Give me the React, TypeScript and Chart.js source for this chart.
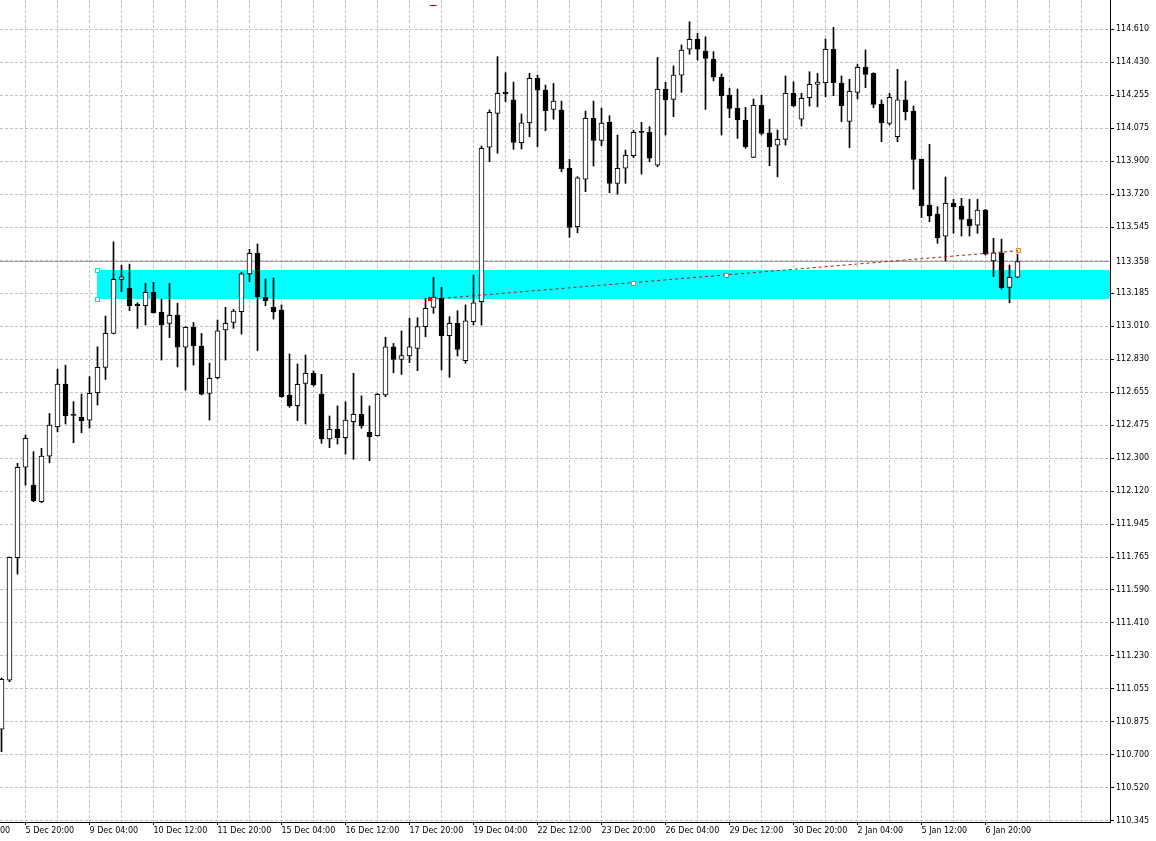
import React, { useEffect, useRef } from "react";
import { Chart, registerables } from "chart.js";

Chart.register(...registerables);

// ---- H4 candles (USDJPY-like) ----
const opens = [
  110.839, 111.104, 111.763, 112.250, 112.154, 112.064, 112.310, 112.468, 112.698, 112.532,
  112.519, 112.503, 112.651, 112.788, 112.971, 113.262, 113.214, 113.129, 113.120, 113.192,
  113.084, 113.025, 113.070, 112.896, 113.004, 112.903, 112.648, 112.732, 112.989, 113.030,
  113.088, 113.291, 113.402, 113.165, 113.111, 113.097, 112.639, 112.581, 112.702, 112.756,
  112.644, 112.402, 112.454, 112.409, 112.495, 112.535, 112.438, 112.420, 112.639, 112.899,
  112.831, 112.849, 112.890, 113.007, 113.111, 113.160, 112.958, 113.025, 112.824, 113.034,
  113.141, 113.973, 114.156, 114.271, 114.228, 113.998, 114.105, 114.344, 114.281, 114.177,
  114.174, 113.861, 113.545, 113.801, 114.129, 114.010, 114.107, 113.779, 113.860, 113.928,
  114.055, 114.054, 113.877, 114.285, 114.231, 114.362, 114.501, 114.554, 114.491, 114.447,
  114.350, 114.254, 114.183, 114.120, 113.919, 114.199, 114.051, 113.984, 114.016, 114.264,
  114.124, 114.240, 114.312, 114.321, 114.501, 114.317, 114.112, 114.269, 114.404, 114.371,
  114.206, 114.102, 114.030, 114.228, 114.168, 113.908, 113.662, 113.614, 113.495, 113.671,
  113.657, 113.585, 113.554, 113.635, 113.361, 113.405, 113.219, 113.273,
];
const highs = [
  111.115, 111.767, 112.271, 112.424, 112.334, 112.352, 112.540, 112.779, 112.800, 112.603,
  112.644, 112.738, 112.899, 113.064, 113.464, 113.339, 113.344, 113.136, 113.240, 113.246,
  113.156, 113.240, 113.133, 113.007, 113.030, 112.971, 112.810, 113.043, 113.111, 113.100,
  113.300, 113.424, 113.452, 113.264, 113.269, 113.124, 112.860, 112.806, 112.854, 112.768,
  112.750, 112.526, 112.580, 112.603, 112.756, 112.634, 112.580, 112.648, 112.950, 112.917,
  112.984, 113.052, 113.055, 113.160, 113.273, 113.219, 113.061, 113.093, 113.124, 113.285,
  113.980, 114.174, 114.461, 114.375, 114.324, 114.152, 114.371, 114.362, 114.308, 114.317,
  114.222, 113.908, 113.815, 114.168, 114.222, 114.184, 114.143, 114.039, 113.958, 114.066,
  114.107, 114.084, 114.457, 114.323, 114.411, 114.524, 114.649, 114.587, 114.568, 114.488,
  114.368, 114.291, 114.287, 114.188, 114.233, 114.254, 114.124, 114.066, 114.357, 114.326,
  114.264, 114.380, 114.371, 114.556, 114.619, 114.357, 114.339, 114.421, 114.497, 114.375,
  114.228, 114.264, 114.393, 114.330, 114.195, 113.910, 113.989, 113.653, 113.813, 113.693,
  113.698, 113.693, 113.693, 113.639, 113.483, 113.478, 113.339, 113.398,
];
const lows = [
  110.718, 111.095, 111.675, 112.154, 112.064, 112.059, 112.274, 112.441, 112.483, 112.382,
  112.436, 112.461, 112.585, 112.723, 112.968, 113.195, 113.093, 112.998, 113.016, 113.079,
  112.827, 112.948, 112.790, 112.666, 112.800, 112.639, 112.504, 112.725, 112.827, 112.998,
  112.967, 113.249, 112.878, 113.120, 113.048, 112.627, 112.573, 112.501, 112.483, 112.687,
  112.379, 112.355, 112.375, 112.321, 112.293, 112.460, 112.285, 112.418, 112.630, 112.759,
  112.750, 112.813, 112.770, 112.953, 113.079, 112.774, 112.734, 112.849, 112.810, 113.016,
  113.016, 113.895, 113.941, 114.218, 113.962, 113.964, 114.030, 113.976, 114.062, 114.124,
  113.841, 113.488, 113.513, 113.734, 113.872, 113.982, 113.728, 113.721, 113.779, 113.917,
  113.829, 113.895, 113.868, 114.039, 114.138, 114.269, 114.474, 114.443, 114.177, 114.331,
  114.039, 114.132, 114.021, 113.968, 113.917, 114.039, 113.874, 113.814, 113.985, 114.191,
  114.088, 114.195, 114.191, 114.245, 114.251, 114.111, 113.971, 114.233, 114.294, 114.186,
  114.003, 114.093, 114.003, 114.120, 113.747, 113.594, 113.572, 113.456, 113.361, 113.510,
  113.495, 113.495, 113.510, 113.393, 113.276, 113.208, 113.136, 113.270,
];
const closes = [
  111.108, 111.765, 112.250, 112.406, 112.070, 112.310, 112.477, 112.698, 112.527, 112.529,
  112.501, 112.648, 112.788, 112.971, 113.262, 113.276, 113.120, 113.120, 113.192, 113.082,
  113.016, 113.068, 112.896, 113.004, 112.904, 112.644, 112.729, 112.984, 113.025, 113.091,
  113.291, 113.402, 113.168, 113.147, 113.086, 112.630, 112.580, 112.697, 112.756, 112.693,
  112.402, 112.454, 112.409, 112.504, 112.535, 112.474, 112.414, 112.643, 112.899, 112.831,
  112.851, 112.899, 113.007, 113.106, 113.167, 112.958, 113.025, 112.885, 113.039, 113.136,
  113.967, 114.161, 114.264, 114.261, 113.999, 114.105, 114.344, 114.281, 114.170, 114.222,
  113.858, 113.542, 113.808, 114.129, 114.010, 114.104, 113.779, 113.860, 113.930, 114.054,
  114.053, 113.914, 114.285, 114.228, 114.362, 114.497, 114.554, 114.501, 114.452, 114.350,
  114.251, 114.183, 114.120, 113.976, 114.199, 114.048, 113.976, 114.016, 114.264, 114.197,
  114.237, 114.312, 114.324, 114.501, 114.321, 114.197, 114.274, 114.404, 114.366, 114.204,
  114.105, 114.242, 114.228, 114.165, 113.908, 113.658, 113.604, 113.486, 113.671, 113.653,
  113.585, 113.551, 113.635, 113.398, 113.405, 113.217, 113.273, 113.358,
];

// ---- axis labels ----
const dateLabels = [
  "4 Dec 12:00", "5 Dec 20:00", "9 Dec 04:00", "10 Dec 12:00", "11 Dec 20:00",
  "15 Dec 04:00", "16 Dec 12:00", "17 Dec 20:00", "19 Dec 04:00", "22 Dec 12:00",
  "23 Dec 20:00", "26 Dec 04:00", "29 Dec 12:00", "30 Dec 20:00", "2 Jan 04:00",
  "5 Jan 12:00", "6 Jan 20:00",
];
const firstDateLabelIndex = -5;
const candlesPerDateLabel = 8;
const candlesPerGridLine = 4;

const priceLabels = [
  "114.610", "114.430", "114.255", "114.075", "113.900", "113.720", "113.545", "",
  "113.185", "113.010", "112.830", "112.655", "112.475", "112.300", "112.120", "111.945",
  "111.765", "111.590", "111.410", "111.230", "111.055", "110.875", "110.700", "110.520",
  "110.345",
];
const priceTop = 114.61;
const priceBottom = 110.345;
const yMin = 110.3396;
const yMax = 114.7662;

// ---- objects on the chart ----
const bidPrice = 113.358;
const zoneTop = 113.312;
const zoneBottom = 113.156;
const zoneStartIndex = 11.94;
const trendStart = { index: 53.56, price: 113.154 };
const trendEnd = { index: 127.06, price: 113.416 };
const trendMidAnchors = [78.9, 90.5];
const topMarker = { from: 53.5, to: 54.4, price: 114.739 };

const FONT = { family: "DejaVu Sans", size: 8 };

const overlayPlugin = {
  id: "mtOverlays",
  beforeDatasetsDraw(chart: any) {
    const { ctx, chartArea, scales } = chart;
    const x = scales.x;
    const y = scales.y;
    ctx.save();
    ctx.beginPath();
    ctx.rect(chartArea.left, chartArea.top, chartArea.right - chartArea.left, chartArea.bottom - chartArea.top);
    ctx.clip();
    const zx = Math.round(x.getPixelForValue(zoneStartIndex));
    const zy1 = Math.round(y.getPixelForValue(zoneTop));
    const zy2 = Math.round(y.getPixelForValue(zoneBottom));
    ctx.fillStyle = "#00ffff";
    ctx.fillRect(zx, zy1, chartArea.right - zx, zy2 - zy1);
    const by = Math.round(y.getPixelForValue(bidPrice)) + 0.5;
    ctx.strokeStyle = "#a0a0a0";
    ctx.lineWidth = 1;
    ctx.beginPath();
    ctx.moveTo(chartArea.left, by);
    ctx.lineTo(chartArea.right, by);
    ctx.stroke();
    ctx.restore();
  },
  afterDatasetsDraw(chart: any) {
    const { ctx, chartArea, scales } = chart;
    const x = scales.x;
    const y = scales.y;
    ctx.save();
    ctx.beginPath();
    ctx.rect(chartArea.left, chartArea.top, chartArea.right - chartArea.left, chartArea.bottom - chartArea.top);
    ctx.clip();
    const x1 = x.getPixelForValue(trendStart.index);
    const y1 = y.getPixelForValue(trendStart.price);
    const x2 = x.getPixelForValue(trendEnd.index);
    const y2 = y.getPixelForValue(trendEnd.price);
    ctx.strokeStyle = "#b01818";
    ctx.lineWidth = 1;
    ctx.setLineDash([3, 3]);
    ctx.beginPath();
    ctx.moveTo(x1, y1);
    ctx.lineTo(x2, y2);
    ctx.stroke();
    ctx.setLineDash([]);
    // trend anchors
    ctx.fillStyle = "#ff0000";
    ctx.fillRect(Math.round(x1) - 2, Math.round(y1) - 2, 4, 4);
    ctx.fillStyle = "#ffffff";
    ctx.strokeStyle = "#909090";
    for (const mi of trendMidAnchors) {
      const t = (mi - trendStart.index) / (trendEnd.index - trendStart.index);
      const mx = Math.round(x.getPixelForValue(mi));
      const my = Math.round(y1 + (y2 - y1) * t);
      ctx.fillRect(mx - 1, my - 1, 3, 3);
      ctx.strokeRect(mx - 1.5, my - 1.5, 4, 4);
    }
    ctx.strokeStyle = "#ff8c00";
    ctx.strokeRect(Math.round(x2) - 1.5, Math.round(y2) - 2.5, 4, 4);
    // zone anchors
    const zx = Math.round(x.getPixelForValue(zoneStartIndex));
    const zy1 = Math.round(y.getPixelForValue(zoneTop));
    const zy2 = Math.round(y.getPixelForValue(zoneBottom));
    ctx.fillStyle = "#ffffff";
    ctx.strokeStyle = "#00e0e0";
    ctx.fillRect(zx - 2, zy1 - 2, 4, 4);
    ctx.strokeRect(zx - 1.5, zy1 - 1.5, 4, 4);
    ctx.fillRect(zx - 2, zy2 - 2, 4, 4);
    ctx.strokeRect(zx - 1.5, zy2 - 1.5, 4, 4);
    // small red marker at top
    const ty = Math.round(y.getPixelForValue(topMarker.price)) + 0.5;
    ctx.strokeStyle = "#e00000";
    ctx.beginPath();
    ctx.moveTo(x.getPixelForValue(topMarker.from), ty);
    ctx.lineTo(x.getPixelForValue(topMarker.to), ty);
    ctx.stroke();
    ctx.restore();
  },
  afterDraw(chart: any) {
    const { ctx, chartArea, scales } = chart;
    const y = scales.y;
    const by = Math.round(y.getPixelForValue(bidPrice));
    ctx.save();
    ctx.font = `${FONT.size}px "${FONT.family}"`;
    ctx.fillStyle = "#ffffff";
    ctx.fillRect(chartArea.right + 1, by - 6, 45, 12);
    ctx.fillStyle = "#000000";
    ctx.textBaseline = "middle";
    ctx.textAlign = "left";
    ctx.fillText(bidPrice.toFixed(3), chartArea.right + 6, by + 0.5);
    ctx.restore();
  },
};

export default function App() {
  const canvasRef = useRef<HTMLCanvasElement | null>(null);

  useEffect(() => {
    const canvas = canvasRef.current;
    if (!canvas) return;
    const isBull = closes.map((c, i) => c >= opens[i]);
    const priceStep = (priceTop - priceBottom) / (priceLabels.length - 1);
    const priceTickValues = priceLabels.map((_, n) => priceTop - n * priceStep);
    const dateTickValues: number[] = [];
    for (let i = firstDateLabelIndex; i <= opens.length + 10; i += candlesPerGridLine) dateTickValues.push(i);
    const dateLabelFor = (v: number) => {
      const k = (v - firstDateLabelIndex) / candlesPerDateLabel;
      return Number.isInteger(k) && k < dateLabels.length ? dateLabels[k] : "";
    };

    const chart = new Chart(canvas, {
      type: "bar",
      data: {
        datasets: [
          {
            label: "bodies",
            order: 0,
            data: opens.map((o, i) => ({ x: i, y: [o, closes[i]] })) as any,
            backgroundColor: isBull.map((b) => (b ? "#ffffff" : "#000000")),
            borderColor: "#000000",
            borderWidth: 1,
            borderSkipped: false,
            barThickness: 5,
            minBarLength: 1,
            grouped: false,
          } as any,
          {
            label: "wicks",
            order: 1,
            data: lows.map((l, i) => ({ x: i, y: [l, highs[i]] })) as any,
            backgroundColor: "#000000",
            borderWidth: 0,
            barThickness: 1,
            grouped: false,
          } as any,
        ],
      },
      options: {
        responsive: false,
        maintainAspectRatio: false,
        devicePixelRatio: 1,
        animation: false,
        events: [],
        layout: { padding: 0 },
        plugins: { legend: { display: false }, tooltip: { enabled: false }, title: { display: false } },
        scales: {
          x: {
            type: "linear",
            position: "bottom",
            min: -0.1875,
            max: -0.1875 + 1110 / 8,
            offset: false,
            afterBuildTicks: (scale: any) => {
              scale.ticks = dateTickValues.map((v) => ({ value: v }));
            },
            afterFit: (scale: any) => {
              scale.height = 19;
              scale.paddingLeft = 0;
              scale.paddingRight = 0;
            },
            grid: {
              offset: false,
              color: "#c0c0c0",
              lineWidth: 1,
              drawTicks: true,
              tickLength: 3,
              tickColor: (c: any) => (c.tick && dateLabelFor(c.tick.value) ? "#000000" : "rgba(0,0,0,0)"),
            },
            border: { display: true, color: "#000000", width: 1, dash: [3, 2] },
            ticks: {
              autoSkip: false,
              maxRotation: 0,
              minRotation: 0,
              align: "start",
              padding: 1,
              color: "#000000",
              font: FONT,
              callback: (v: any) => dateLabelFor(Number(v)),
            },
          },
          y: {
            type: "linear",
            position: "right",
            min: yMin,
            max: yMax,
            afterBuildTicks: (scale: any) => {
              scale.ticks = priceTickValues.map((v) => ({ value: v }));
            },
            afterFit: (scale: any) => {
              scale.width = 46;
              scale.paddingTop = 0;
              scale.paddingBottom = 0;
            },
            grid: {
              color: "#c0c0c0",
              lineWidth: 1,
              drawTicks: true,
              tickLength: 4,
              tickColor: "#000000",
            },
            border: { display: true, color: "#000000", width: 1, dash: [3, 2] },
            ticks: {
              padding: 2,
              color: "#000000",
              font: FONT,
              callback: (_v: any, i: number) => priceLabels[i],
            },
          },
        },
      } as any,
      plugins: [overlayPlugin],
    });
    return () => chart.destroy();
  }, []);

  return (
    <div style={{ position: "fixed", left: 0, top: 0, width: 1156, height: 841, background: "#ffffff" }}>
      <canvas ref={canvasRef} width={1156} height={841} style={{ display: "block", width: 1156, height: 841 }} />
    </div>
  );
}
